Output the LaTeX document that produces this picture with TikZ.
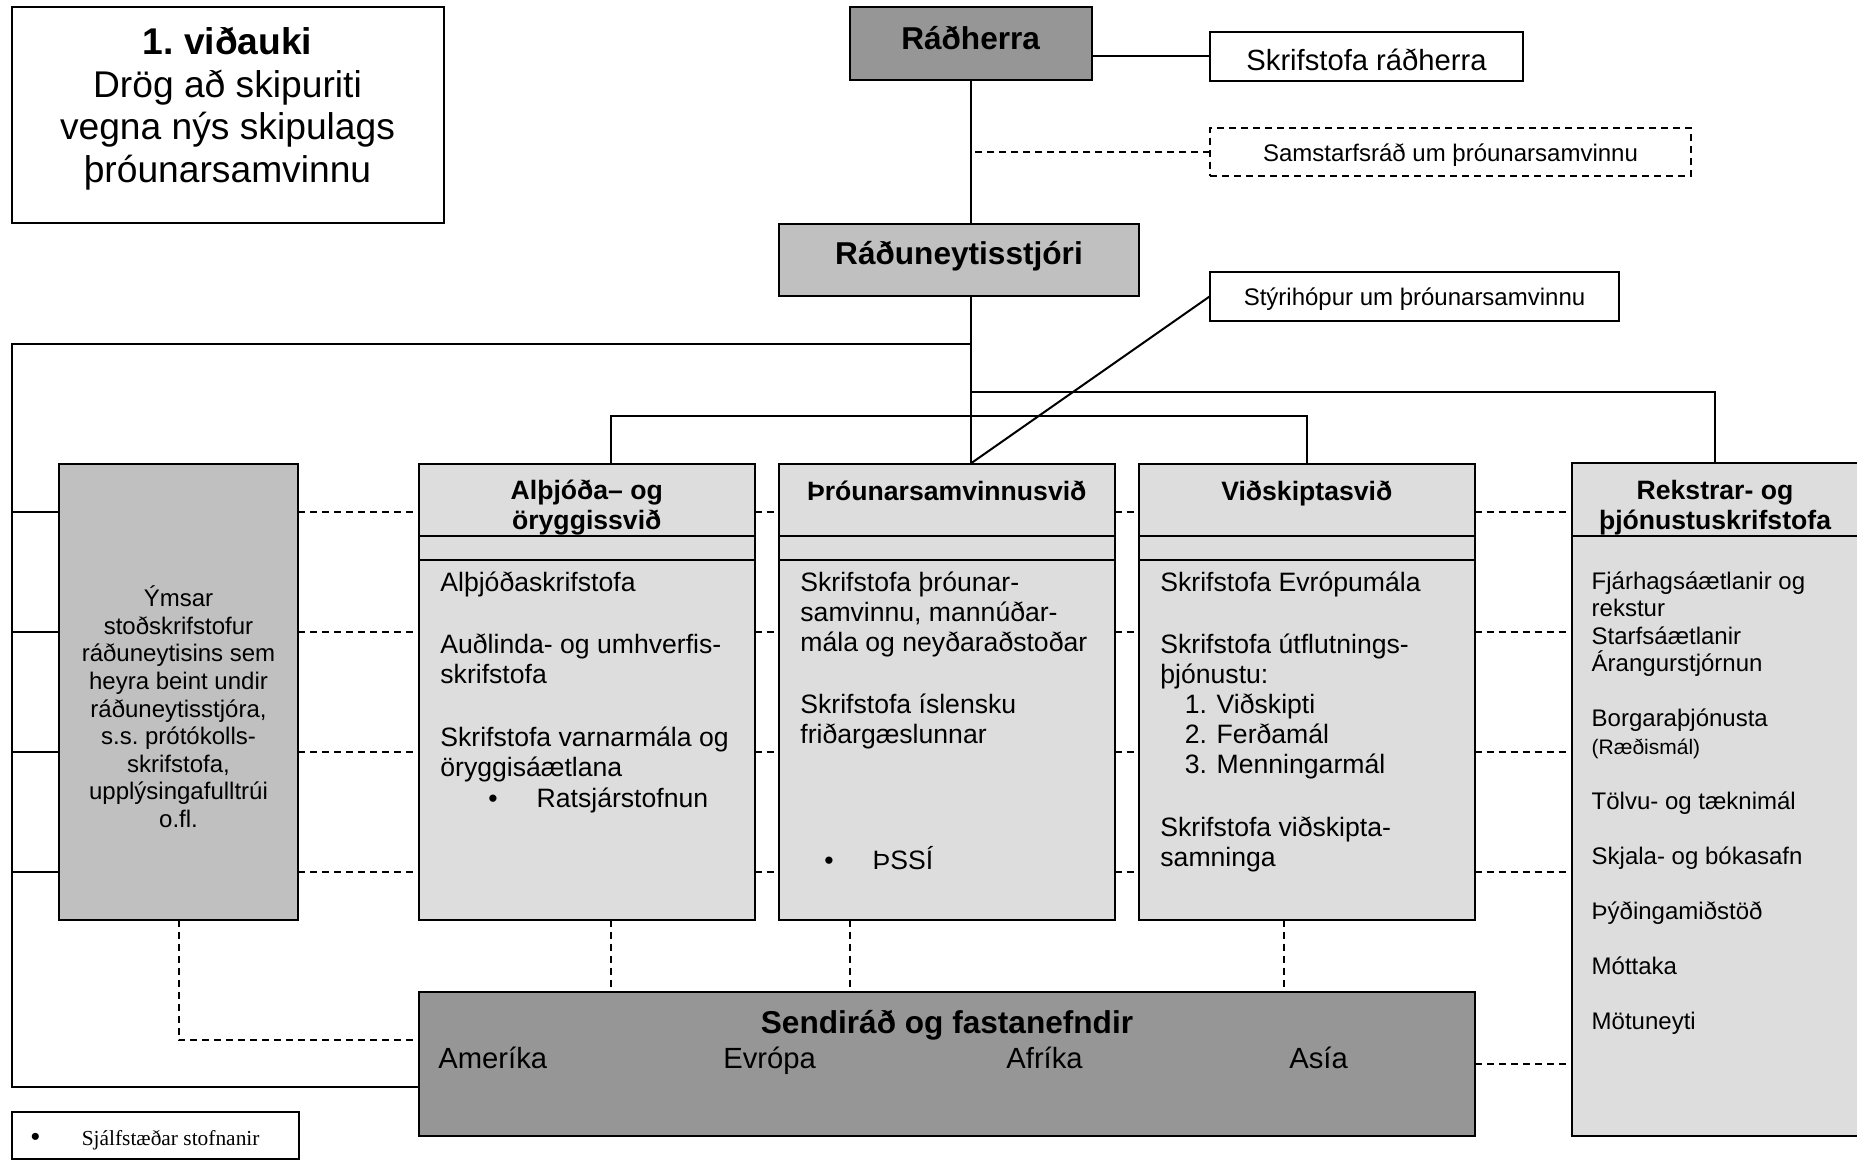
\documentclass[tikz,border=0pt]{standalone}
\usepackage{fontspec}
\setmainfont{Liberation Sans}
\newfontfamily\legendfont{Liberation Serif}
\usepackage{xcolor}
\frenchspacing
\definecolor{boxdark}{HTML}{969696}
\definecolor{boxmid}{HTML}{C0C0C0}
\definecolor{boxlight}{HTML}{DDDDDD}
\tikzset{
	box/.style={draw, line width=1pt, inner sep=0pt, outer sep=0pt},
	link/.style={line width=1pt},
	dotlink/.style={line width=1pt, dash pattern=on 3.5pt off 2.5pt},
	lbl/.style={inner sep=0pt, anchor=base, font=\fontsize{#1}{#1}\selectfont},
	body/.style={inner sep=0pt, anchor=north west, align=left, font=\fontsize{13.3}{15}\selectfont},
	small/.style={inner sep=0pt, align=left, font=\fontsize{12}{13.75}\selectfont}
}

\begin{document}
\begin{tikzpicture}[x=0.5pt, y=-0.5pt]
	\useasboundingbox (0,0) rectangle (1857,1160);

	% boxes
	\node[box, fill=white, minimum width=216pt, minimum height=108pt]	(titill) at (227.5,115.5) {};
	\node[box, fill=boxdark, minimum width=120.75pt, minimum height=36.5pt]	(radherra) at (970.75,44) {};
	\node[box, fill=white, minimum width=156.5pt, minimum height=24.5pt]	(skrradh) at (1366.5,56.2) {};
	\node[box, dotlink, fill=white, minimum width=240.5pt, minimum height=24pt]	(samstarf) at (1450.5,151.7) {};
	\node[box, fill=boxmid, minimum width=180pt, minimum height=36pt]	(rstj) at (959,260) {};
	\node[box, fill=white, minimum width=204.5pt, minimum height=24.5pt]	(styri) at (1414.5,296.2) {};
	\node[box, fill=boxmid, minimum width=119.5pt, minimum height=228pt]	(ymsar) at (178.5,691.5) {};
	\node[box, fill=boxlight, minimum width=167.75pt, minimum height=228pt]	(althjoda) at (586.75,691.5) {};
	\node[box, fill=boxlight, minimum width=167.75pt, minimum height=228pt]	(throun) at (946.75,691.5) {};
	\node[box, fill=boxlight, minimum width=167.75pt, minimum height=228pt]	(vidsk) at (1306.75,691.5) {};
	\node[box, fill=boxlight, minimum width=147pt, minimum height=336.5pt]	(rekstur) at (1719,799.5) {};
	\node[box, fill=boxdark, minimum width=528pt, minimum height=72pt]	(sendirad) at (947,1064) {};
	\node[box, fill=white, minimum width=143.5pt, minimum height=23.5pt]	(skyring) at (155.5,1135.5) {};

	% dividers in the boxes
	\foreach \d in {althjoda, throun, vidsk} {
		\draw[link]	(\d.west |- 0,535.5) -- (\d.east |- 0,535.5);
		\draw[link]	(\d.west |- 0,559.5) -- (\d.east |- 0,559.5);
	}
	\draw[link]	(rekstur.west |- 0,535.5) -- (rekstur.east |- 0,535.5);

	% solid lines
	\coordinate (rammi-t) at (12,344.5);
	\coordinate (rammi-b) at (12,1087);
	\coordinate (slaa-a) at (611,416);
	\coordinate (slaa-b) at (971,392);
	\coordinate (slaa-c) at (1715,392);
	\draw[link]	(skrradh.west) -- (skrradh.west -| radherra.east);
	\draw[link]	(radherra.south) -- (radherra.south |- rstj.north);
	\draw[link]	(radherra.south |- rstj.south) -- (radherra.south |- throun.north);
	\draw[link]	(styri.west) -- (radherra.south |- throun.north);
	\draw[link]	(radherra.south |- rammi-t) -- (rammi-t) -- (rammi-b) -- (sendirad.west |- rammi-b);
	\foreach \y in {512,632,752,872}
		\draw[link]	(rammi-t |- 0,\y) -- (ymsar.west |- 0,\y);
	\draw[link]	(althjoda.north -| slaa-a) -- (slaa-a) -- (slaa-a -| vidsk.north) -- (vidsk.north);
	\draw[link]	(slaa-b) -- (slaa-c) -- (slaa-c |- rekstur.north);

	% dashed lines
	\draw[dotlink]	(samstarf.west) -- (samstarf.west -| radherra.south);
	\foreach \y in {512,632,752,872}
		\foreach \a/\b in {ymsar/althjoda, althjoda/throun, throun/vidsk, vidsk/rekstur}
			\draw[dotlink]	(\a.east |- 0,\y) -- (\b.west |- 0,\y);
	\foreach \d/\x in {althjoda/611, throun/850, vidsk/1284}
		\draw[dotlink]	(\d.south -| \x,0) -- (sendirad.north -| \x,0);
	\draw[dotlink]	(ymsar.south) |- (sendirad.west |- 0,1040);
	\draw[dotlink]	(sendirad.east |- 0,1063.5) -- (rekstur.west |- 0,1063.5);

	% texts
	\node[inner sep=0pt, anchor=north, align=center, font=\fontsize{18.6}{21.3}\selectfont]	(titill-t) at (227.5,24.5)
		{\strut\textbf{1. viðauki}\\Drög að skipuriti\\vegna nýs skipulags\\þróunarsamvinnu};
	\node[lbl=15.8]	(radherra-t) at (970.75,49.4) {\textbf{Ráðherra}};
	\node[lbl=14.6]	(skrradh-t) at (1366.5,70.5) {Skrifstofa ráðherra};
	\node[lbl=12]	(samstarf-t) at (1450.5,162) {Samstarfsráð um þróunarsamvinnu};
	\node[lbl=15.8]	(rstj-t) at (959,264.7) {\textbf{Ráðuneytisstjóri}};
	\node[lbl=12]	(styri-t) at (1414.5,305.3) {Stýrihópur um þróunarsamvinnu};

	\node[inner sep=0pt, anchor=north, align=center, font=\fontsize{13.3}{14.8}\selectfont\bfseries]	(althjoda-h) at (586.75,478.5)
		{\strut Alþjóða– og\\öryggissvið};
	\node[lbl=13.3, font=\fontsize{13.3}{14.5}\selectfont\bfseries]	(throun-h) at (946.75,500.3) {Þróunarsamvinnusvið};
	\node[lbl=13.3, font=\fontsize{13.3}{14.5}\selectfont\bfseries]	(vidsk-h) at (1306.75,500.3) {Viðskiptasvið};
	\node[inner sep=0pt, anchor=north, align=center, font=\fontsize{13.3}{14.8}\selectfont\bfseries]	(rekstur-h) at (1715,478.5)
		{\strut Rekstrar- og\\þjónustuskrifstofa};

	\node[small, anchor=north, align=center, font=\fontsize{12}{13.8}\selectfont]	(ymsar-t) at (178.5,585.5)
		{\strut Ýmsar\\stoðskrifstofur\\ráðuneytisins sem\\heyra beint undir\\ráðuneytisstjóra,\\s.s. prótókolls-\\skrifstofa,\\upplýsingafulltrúi\\o.fl.};
	\node[body]	(althjoda-t) at (440,570)
		{\strut Alþjóðaskrifstofa\\[16.25pt]
		Auðlinda- og umhverfis-\\skrifstofa\\[16.25pt]
		Skrifstofa varnarmála og\\öryggisáætlana\\[0.5pt]
		\hspace*{24pt}\makebox[24.15pt][l]{•}Ratsjárstofnun};
	\node[body]	(throun-t) at (800,570)
		{\strut Skrifstofa þróunar-\\samvinnu, mannúðar-\\mála og neyðaraðstoðar\\[16.25pt]
		Skrifstofa íslensku\\friðargæslunnar\\[47.85pt]
		\hspace*{12pt}\makebox[24.15pt][l]{•}ÞSSÍ};
	\node[body]	(vidsk-t) at (1160,570)
		{\strut Skrifstofa Evrópumála\\[16.25pt]
		Skrifstofa útflutnings-\\þjónustu:\\
		\hspace*{12.2pt}\makebox[15.95pt][l]{1.}Viðskipti\\
		\hspace*{12.2pt}\makebox[15.95pt][l]{2.}Ferðamál\\
		\hspace*{12.2pt}\makebox[15.95pt][l]{3.}Menningarmál\\[16.25pt]
		Skrifstofa viðskipta-\\samninga};
	\node[small, anchor=north west]	(rekstur-t) at (1591.3,569.5)
		{\strut Fjárhagsáætlanir og\\rekstur\\Starfsáætlanir\\Árangurstjórnun\\[13.75pt]
		Borgaraþjónusta\\{\fontsize{10.5}{12}\selectfont (Ræðismál)}\\[13.75pt]
		Tölvu- og tæknimál\\[13.75pt]
		Skjala- og bókasafn\\[13.75pt]
		Þýðingamiðstöð\\[13.75pt]
		Móttaka\\[13.75pt]
		Mötuneyti};

	\node[lbl=15.8]	(sendirad-t) at (947,1033) {\textbf{Sendiráð og fastanefndir}};
	\foreach \n/\x/\t in {ameri/438/Ameríka, evropa/722.9/Evrópa, afrika/1006/Afríka, asia/1289/Asía}
		\node[lbl=14.6, anchor=base west]	(\n) at (\x,1068.7) {\t};
	\node[inner sep=0pt, anchor=base west, font=\legendfont\fontsize{10.7}{12}\selectfont]	(skyring-t) at (30.5,1145)
		{\makebox[25.45pt][l]{\normalfont\fontsize{13}{13}\selectfont •}Sjálfstæðar stofnanir};
\end{tikzpicture}
\end{document}
